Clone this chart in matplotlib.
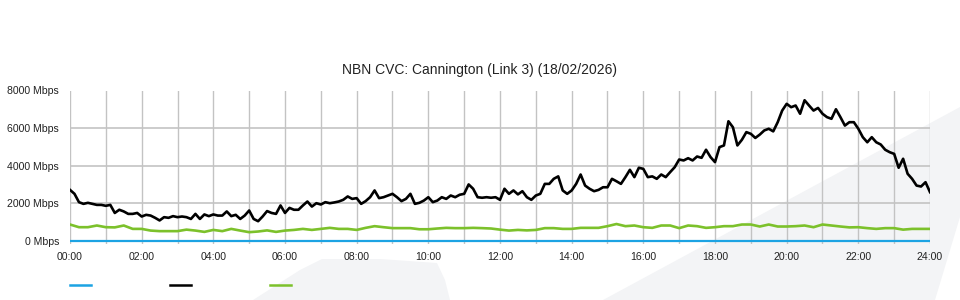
import matplotlib
matplotlib.use("Agg")
import matplotlib.pyplot as plt
from matplotlib.patches import Polygon
from matplotlib.lines import Line2D
import numpy as np

plt.rcParams['font.family'] = ['Liberation Sans', 'DejaVu Sans']

title = "NBN CVC: Cannington (Link 3) (18/02/2026)"
x_tick_labels = ["00:00", "02:00", "04:00", "06:00", "08:00", "10:00", "12:00",
                 "14:00", "16:00", "18:00", "20:00", "22:00", "24:00"]
y_ticks = [0, 2000, 4000, 6000, 8000]
y_tick_labels = ["0 Mbps", "2000 Mbps", "4000 Mbps", "6000 Mbps", "8000 Mbps"]

# Black series (Mbps), sampled every 7.5 minutes from 00:00 to 24:00
black_vals = [
    2700, 2490, 2045, 1955, 2010, 1955, 1900, 1900, 1850, 1900, 1470, 1640, 1550, 1420, 1420, 1470,
    1280, 1370, 1330, 1210, 1070, 1245, 1210, 1300, 1245, 1280, 1245, 1150, 1420, 1150, 1390, 1300,
    1390, 1330, 1330, 1550, 1300, 1370, 1150, 1330, 1600, 1150, 1030, 1280, 1570, 1470, 1420, 1870,
    1470, 1740, 1640, 1640, 1870, 2080, 1810, 1990,
    1920, 2045, 1990, 2030, 2080, 2170, 2350, 2220, 2260, 1955, 2100, 2310, 2670, 2260, 2310, 2400,
    2490, 2310, 2100, 2220, 2490, 1955, 2010, 2130, 2310, 2045, 2130, 2310, 2220, 2400, 2310, 2440,
    2490, 2990, 2760, 2310, 2280, 2310, 2280, 2310, 2170, 2760, 2490, 2670, 2460, 2630, 2310, 2170,
    2400, 2490, 3020, 3020, 3290, 3420, 2670, 2490, 2670, 3020, 3520, 2930, 2760, 2630, 2700, 2840,
    2840, 3290, 3160, 3020, 3380, 3770, 3380, 3880,
    3820, 3380, 3420, 3290, 3520, 3380, 3650, 3910, 4320, 4270, 4390, 4270, 4480, 4410, 4840, 4450,
    4180, 4980, 5070, 6360, 6040, 5070, 5370, 5780, 5690, 5470, 5650, 5870, 5960, 5820, 6310, 6930,
    7290, 7110, 7200, 6760, 7480, 7200, 6930, 7070, 6760, 6580, 6490, 7000, 6580, 6130, 6310, 6310,
    5960, 5510, 5240, 5510, 5240, 5120, 4840, 4710, 4620, 3880, 4360, 3560, 3290, 2930, 2880, 3110,
    2580,
]

# Green series (Mbps), sampled every 15 minutes from 00:00 to 24:00
green_vals = [
    853, 710, 710, 800, 710, 700, 800, 620, 620, 530, 500, 500, 500, 580, 530, 460,
    565, 500, 620, 530, 445, 480, 540, 460, 530, 565, 620, 565, 620, 675, 620, 620,
    565, 675, 765, 710, 660, 660, 660, 600, 600, 640, 675, 660, 660, 675, 660, 640,
    580, 530, 565, 540, 565, 660, 660, 620, 620, 675, 675, 675, 765, 880, 765, 800,
    710, 675, 800, 800, 660, 800, 765, 675, 710, 765, 765, 853, 853, 747, 853, 747,
    747, 765, 800, 710, 853, 800, 747, 700, 710, 660, 620, 660, 660, 580, 620, 620,
    620,
]

# Blue series (Mbps)
blue_hours = [0, 24]
blue_vals = [0, 0]

black_hours = np.linspace(0, 24, len(black_vals))
green_hours = np.linspace(0, 24, len(green_vals))

W, H = 960, 300
fig = plt.figure(figsize=(9.6, 3.0), dpi=100)
fig.patch.set_facecolor("white")

def px(pts):
    return [(x / W, 1 - y / H) for x, y in pts]

bg_col = "#f3f4f6"
band = Polygon(px([(603, 300), (960, 107), (960, 217), (935, 300)]),
               closed=True, transform=fig.transFigure, facecolor=bg_col,
               edgecolor="none", zorder=0)
blob = Polygon(px([(253, 300), (300, 270), (322, 259), (380, 259), (437, 263),
                   (445, 280), (450, 300)]),
               closed=True, transform=fig.transFigure, facecolor=bg_col,
               edgecolor="none", zorder=0)
fig.add_artist(band)
fig.add_artist(blob)

ax = fig.add_axes([70 / W, 1 - 243.7 / H, 860 / W, (243.7 - 90.5) / H])
ax.patch.set_alpha(0)
ax.set_zorder(1)

ax.set_xlim(0, 24)
ax.set_ylim(-170, 8000)
for s in ax.spines.values():
    s.set_visible(False)

ax.set_xticks(range(0, 25, 2))
ax.set_xticklabels(x_tick_labels)
ax.set_xticks(range(0, 25, 1), minor=True)
ax.set_yticks(y_ticks)
ax.set_yticklabels(y_tick_labels)
ax.tick_params(axis="both", which="both", length=0, labelsize=7.6, colors="#222222")
ax.tick_params(axis="y", pad=8)
ax.tick_params(axis="x", pad=6)

ax.grid(True, which="both", axis="x", color="#c3c3c3", linewidth=1.0, zorder=0)
ax.grid(True, which="major", axis="y", color="#c3c3c3", linewidth=1.2, zorder=0)

blue_c = "#1ca3e3"
black_c = "#000000"
green_c = "#7cc12b"

ax.plot(green_hours, green_vals, color=green_c, linewidth=1.9, zorder=3,
        solid_joinstyle="round")
ax.plot(black_hours, black_vals, color=black_c, linewidth=1.9, zorder=4,
        solid_joinstyle="round")
ax.plot(blue_hours, blue_vals, color=blue_c, linewidth=1.6, zorder=5)

fig.text(0.5, 1 - 70 / H, title, fontsize=10, color="#222222",
         ha="center", va="center")

for x0, c in [(70, blue_c), (170, black_c), (270, green_c)]:
    fig.add_artist(Line2D([x0 / W, (x0 + 21) / W], [1 - 285 / H, 1 - 285 / H],
                          transform=fig.transFigure, color=c, linewidth=1.8))

fig.savefig("out.png", dpi=100)
